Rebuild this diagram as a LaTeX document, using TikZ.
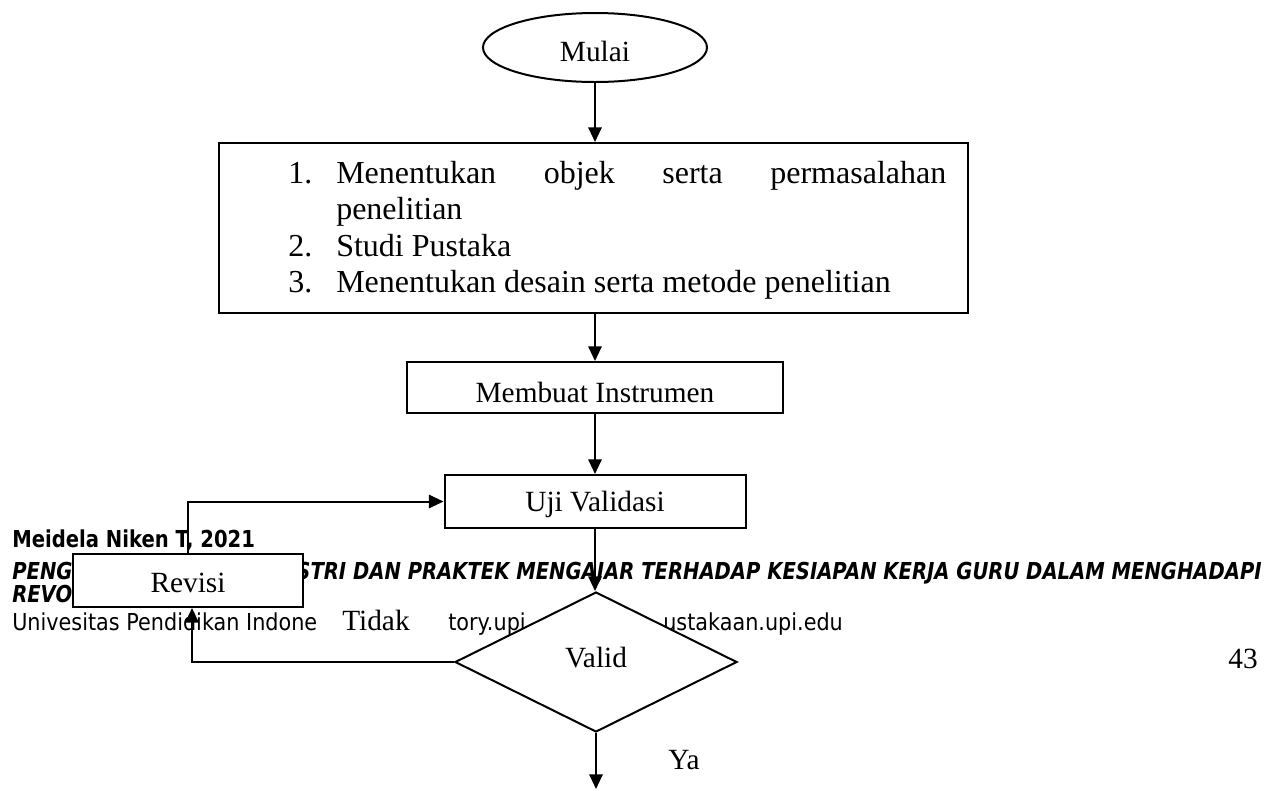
\documentclass[tikz,border=0pt]{standalone}
\usepackage{fontspec}
\setmainfont{Liberation Serif}
\newfontfamily\footB[FakeStretch=0.84]{DejaVu Sans}
\newfontfamily\footR[FakeStretch=0.89]{DejaVu Sans}
\usetikzlibrary{shapes.geometric,arrows.meta,calc}
\newcommand{\shiftv}[2]{\raisebox{#1}[\height][\depth]{#2}}
\tikzset{
  box/.style={draw, line width=1.5pt, fill=white, inner sep=0pt},
  conn/.style={line width=1.5pt},
  arr/.style={conn, -{Triangle[length=11pt,width=10pt]}},
  txt/.style={font=\fontsize{22pt}{26pt}\selectfont},
  big/.style={font=\fontsize{24pt}{28pt}\selectfont, inner sep=0pt, anchor=base west},
  footb/.style={font=\footB\fontsize{17.5pt}{20pt}\selectfont\bfseries, inner sep=0pt},
  footr/.style={font=\footR\fontsize{17.5pt}{20pt}\selectfont, inner sep=0pt},
}
\begin{document}
\begin{tikzpicture}[x=0.75pt,y=-0.75pt]
\fill[white] (0,0) rectangle (1279,790);
\useasboundingbox (0,0) rectangle (1279,790);

% page footer (behind the diagram)
\node[footb, anchor=base west] (f1) at (12,547) {Meidela Niken T, 2021};
\node[footb, anchor=base west] (f2a) at (12,579) {\itshape PENG};
\node[footb, anchor=base east] (f2b) at (1262,579) {\itshape STRI DAN PRAKTEK MENGAJAR TERHADAP KESIAPAN KERJA GURU DALAM MENGHADAPI};
\node[footb, anchor=base west] (f3) at (12,602) {\itshape REVO};
\node[footr, anchor=base west] (f4a) at (12,630) {Univesitas Pendidikan Indone};
\node[footr, anchor=base west] (f4b) at (448,630) {tory.upi};
\node[footr, anchor=base west] (f4c) at (663,630) {ustakaan.upi.edu};
\node[txt, inner sep=0pt, anchor=base east] (pg) at (1258,668) {43};

% shapes
\node[box, ellipse, minimum width=168pt, minimum height=51.75pt, txt] (mulai) at (595,47.5) {\shiftv{-3pt}{Mulai}};
\node[box, minimum width=561.75pt, minimum height=127.5pt] (steps) at (593.5,228) {};
\node[box, minimum width=282pt, minimum height=38.25pt, txt] (membuat) at (595,387.5) {\shiftv{-4pt}{Membuat Instrumen}};
\node[box, minimum width=225.75pt, minimum height=39.75pt, txt] (uji) at (595,501.5) {\shiftv{-2pt}{Uji Validasi}};
\node[box, diamond, aspect=2, minimum width=211.5pt, minimum height=105pt, txt] (valid) at (596,662) {\shiftv{3.5pt}{Valid}};
\node[box, minimum width=172.5pt, minimum height=39.75pt, txt] (revisi) at (188,580.5) {\shiftv{-2pt}{Revisi}};
\node[fill=white, anchor=west, inner xsep=15pt, inner ysep=0pt, text width=63pt, minimum height=27pt, align=left, txt] (tidak) at (322,620) {Tidak};
\node[txt, inner sep=0pt] (ya) at (684,760) {Ya};

% list in the first box
\node[big] (n1) at (288,183) {1.};
\node[big] (t1) at (336,183) {\makebox[457.5pt][l]{Menentukan\hfill objek\hfill serta\hfill permasalahan}};
\node[big] (t1b) at (336,219.5) {penelitian};
\node[big] (n2) at (288,256) {2.};
\node[big] (t2) at (336,256) {Studi Pustaka};
\node[big] (n3) at (288,292.5) {3.};
\node[big] (t3) at (336,292.5) {Menentukan desain serta metode penelitian};

% connectors
\coordinate (yaend) at (596,789);
\draw[arr] (mulai.south) -- (mulai.south |- steps.north);
\draw[arr] (steps.south -| membuat.north) -- (membuat.north);
\draw[arr] (membuat.south) -- (membuat.south |- uji.north);
\draw[arr] (uji.south) -- (uji.south |- valid.north);
\draw[arr] (valid.south) -- (valid.south |- yaend);
\draw[arr] (valid.west) -| ($(revisi.south)+(4,0)$);
\draw[arr] (revisi.north) |- (uji.west);
\end{tikzpicture}
\end{document}
